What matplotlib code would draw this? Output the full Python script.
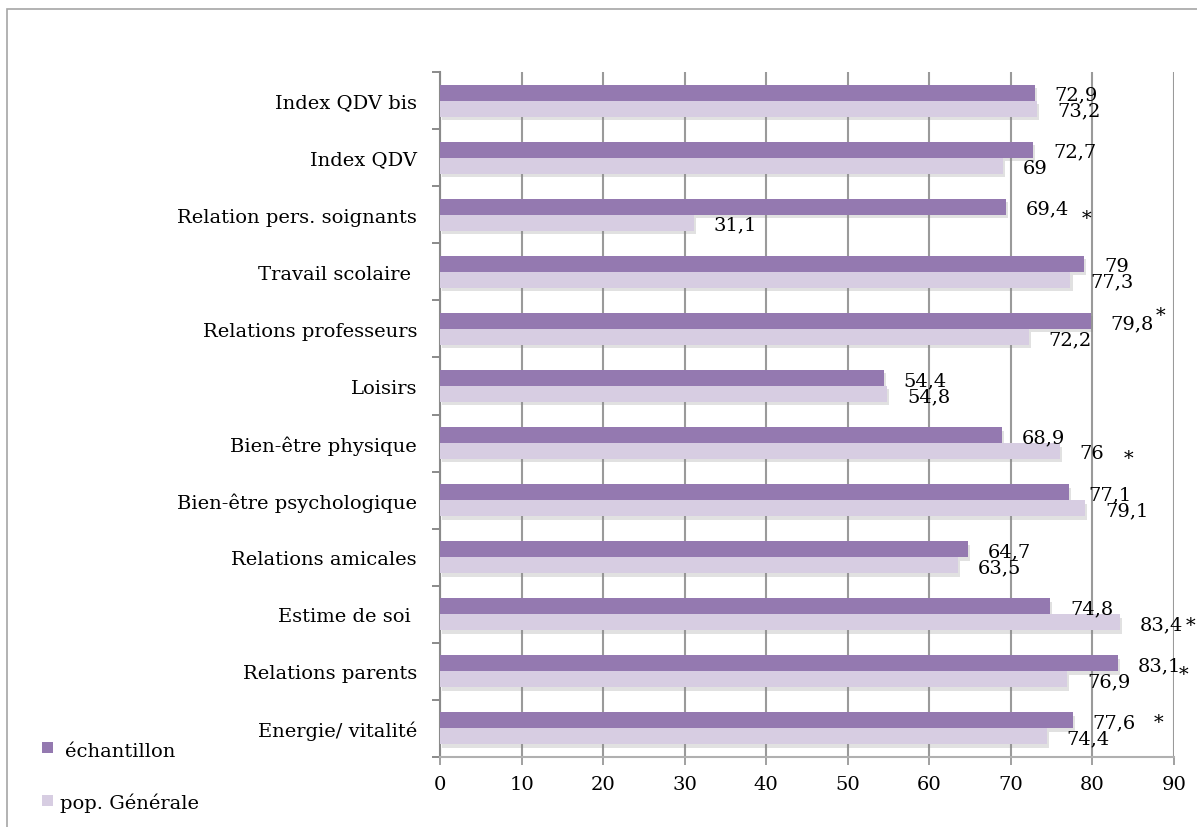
import matplotlib
matplotlib.use("Agg")
import matplotlib.pyplot as plt
import matplotlib.patheffects as pe
from matplotlib.patches import Rectangle
import numpy as np

categories = ["Index QDV bis", "Index QDV", "Relation pers. soignants", "Travail scolaire ",
              "Relations professeurs", "Loisirs", "Bien-être physique", "Bien-être psychologique",
              "Relations amicales", "Estime de soi ", "Relations parents", "Energie/ vitalité"]
echantillon = [72.9, 72.7, 69.4, 79, 79.8, 54.4, 68.9, 77.1, 64.7, 74.8, 83.1, 77.6]
pop_generale = [73.2, 69, 31.1, 77.3, 72.2, 54.8, 76, 79.1, 63.5, 83.4, 76.9, 74.4]
series_names = ["échantillon", "pop. Générale"]
xticks = [0, 10, 20, 30, 40, 50, 60, 70, 80, 90]
# significance marks: (category index, x position, vertical shift in category units)
stars = [(2, 79.3, -0.05), (4, 88.4, -0.35), (6, 84.4, 0.15), (9, 92.0, 0.08),
         (10, 91.2, -0.06), (11, 88.1, -0.22)]

DARK = "#9479b0"
LIGHT = "#d7cde2"
FONT = "DejaVu Serif"
FS = 14

W, H = 1197, 828
fig = plt.figure(figsize=(W / 100, H / 100), dpi=100)
fig.patch.set_facecolor("white")
ax = fig.add_axes([440 / W, 1 - 758 / H, (1174 - 440) / W, (758 - 73) / H])

n = len(categories)
y = np.arange(n)
h = 0.28
shadow = [pe.SimplePatchShadow(offset=(1.5, -2.5), shadow_rgbFace="#888888", alpha=0.25), pe.Normal()]
b1 = ax.barh(y - h / 2, echantillon, height=h, color=DARK, zorder=3)
b2 = ax.barh(y + h / 2, pop_generale, height=h, color=LIGHT, zorder=3)
for b in list(b1) + list(b2):
    b.set_path_effects(shadow)

def fmt(v):
    return f"{v:g}".replace(".", ",")

for i in range(n):
    ax.annotate(fmt(echantillon[i]), xy=(echantillon[i], y[i] - h / 2), xytext=(20, -2),
                textcoords="offset pixels", ha="left", va="center", fontsize=FS,
                family=FONT, zorder=5, annotation_clip=False)
    ax.annotate(fmt(pop_generale[i]), xy=(pop_generale[i], y[i] + h / 2), xytext=(20, -2),
                textcoords="offset pixels", ha="left", va="center", fontsize=FS,
                family=FONT, zorder=5, annotation_clip=False)

for idx, sx, dy in stars:
    ax.annotate("*", xy=(sx, idx + dy), xytext=(0, -11), textcoords="offset pixels",
                ha="center", va="baseline", fontsize=FS, family=FONT,
                zorder=5, annotation_clip=False)

ax.set_xlim(0, 90)
ax.set_ylim(n - 0.5, -0.5)
ax.set_xticks(xticks)
ax.set_xticklabels([str(t) for t in xticks], family=FONT, fontsize=FS)
ax.set_yticks(np.arange(-0.5, n, 1.0))
ax.set_yticklabels([])
ax.set_yticks(y, minor=True)
ax.set_yticklabels(categories, minor=True, family=FONT, fontsize=FS)
ax.tick_params(axis="y", which="minor", length=0, pad=16.5)
ax.tick_params(axis="y", which="major", length=5.8, width=1.4, color="#8a8a8a")
ax.tick_params(axis="x", length=5.8, width=1.4, color="#a0a0a0", pad=7)

ax.set_axisbelow(True)
ax.xaxis.grid(True, color="#9a9a9a", linewidth=1.5)
ax.yaxis.grid(False)
for s in ["top", "right"]:
    ax.spines[s].set_visible(False)
ax.spines["left"].set_color("#8a8a8a")
ax.spines["left"].set_linewidth(1.5)
ax.spines["bottom"].set_color("#b0b0b0")
ax.spines["bottom"].set_linewidth(1.5)

# figure border
fig.patches.append(Rectangle((7 / W, -0.05), 1.2, 1 - 10 / H + 0.05, transform=fig.transFigure,
                             fill=False, edgecolor="#a6a6a6", linewidth=1.2))

# legend
fig.patches.append(Rectangle((42 / W, 1 - 754 / H), 11 / W, 11 / H, transform=fig.transFigure,
                             facecolor=DARK, edgecolor="none"))
fig.text(65 / W, 1 - 757 / H, series_names[0], family=FONT, fontsize=FS, va="baseline")
fig.patches.append(Rectangle((42 / W, 1 - 807 / H), 11 / W, 11 / H, transform=fig.transFigure,
                             facecolor=LIGHT, edgecolor="none"))
fig.text(60 / W, 1 - 809 / H, series_names[1], family=FONT, fontsize=FS, va="baseline")

fig.savefig("out.png", dpi=100)
